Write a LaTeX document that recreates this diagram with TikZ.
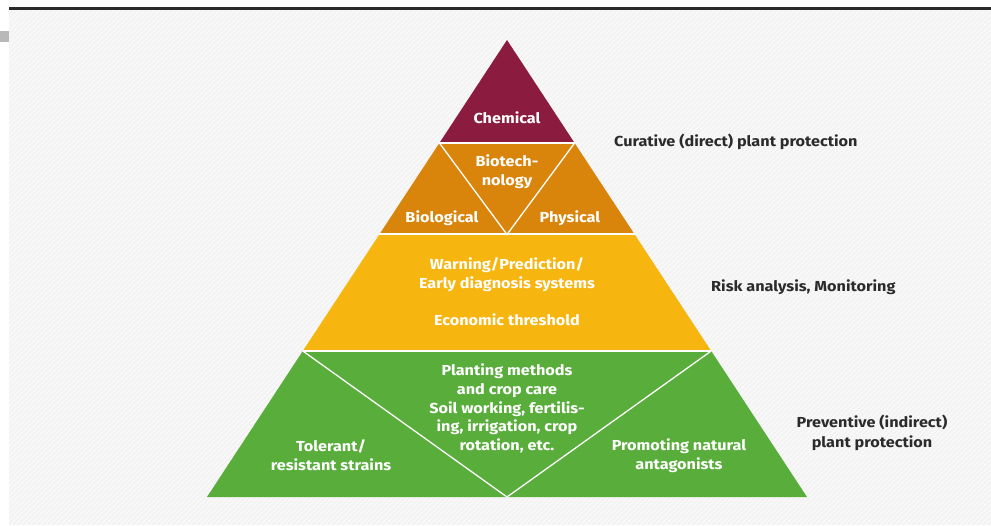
\documentclass[tikz,border=0pt]{standalone}
\usepackage{fontspec}
\setmainfont{Fira Sans}[FakeStretch=1.12]
\definecolor{chem}{HTML}{8C1B40}
\definecolor{orng}{HTML}{D9850C}
\definecolor{yell}{HTML}{F6B50F}
\definecolor{gren}{HTML}{58AD3B}
\definecolor{bgc}{HTML}{F2F2F2}
\definecolor{stripe}{HTML}{F9F9F9}
\definecolor{darktext}{HTML}{2B2B2B}
\tikzset{
  intext/.style={text=white, font=\bfseries\fontsize{14.5}{19}\selectfont, align=center, inner sep=0pt},
  outtext/.style={text=darktext, font=\bfseries\fontsize{14.5}{19.5}\selectfont, align=center, inner sep=0pt},
  sepline/.style={white, line width=2pt},
  innerline/.style={white, line width=1.3pt},
}
\begin{document}
\begin{tikzpicture}[x=1pt,y=-1pt]
\useasboundingbox (0,0) rectangle (991,526);
% background
\fill[bgc] (9,10) rectangle (991,525);
\begin{scope}
  \clip (9,10) rectangle (991,525);
  \foreach \i in {-515,-510,...,995} {
    \draw[stripe, line width=1.6pt] (\i,525) -- (\i+516,9);
  }
\end{scope}
\draw[color=darktext, line width=2.6pt] (9,8.5) -- (991,8.5);
\fill[gray!55] (0,31) rectangle (9,42);
% pyramid coordinates
\coordinate (A) at (507,40);
\coordinate (c1) at (439.4,143); \coordinate (c2) at (574.6,143);
\coordinate (o1) at (379.3,234.5); \coordinate (o2) at (634.7,234.5);
\coordinate (y1) at (302.8,351); \coordinate (y2) at (711.2,351);
\coordinate (g1) at (207,497); \coordinate (g2) at (807,497);
\coordinate (om) at (507,234.5);
\coordinate (gm) at (507,497);
% layers
\fill[chem] (A) -- (c1) -- (c2) -- cycle;
\fill[orng] (c1) -- (c2) -- (o2) -- (o1) -- cycle;
\fill[yell] (o1) -- (o2) -- (y2) -- (y1) -- cycle;
\fill[gren] (y1) -- (y2) -- (g2) -- (g1) -- cycle;
\draw[sepline] (c1) -- (c2);
\draw[sepline] (o1) -- (o2);
\draw[sepline] (y1) -- (y2);
\draw[innerline] (c1) -- (om) -- (c2);
\draw[innerline] (y1) -- (gm) -- (y2);
% texts inside
\node[intext] (chemical) at (507,118) {Chemical};
\node[intext] (biotech) at (507,172) {Biotech-\\nology};
\node[intext] (biological) at (442,218) {Biological};
\node[intext] (physical) at (570,218) {Physical};
\node[intext] (warning) at (507,274.5) {Warning/Prediction/\\Early diagnosis systems};
\node[intext] (econ) at (507,320) {Economic threshold};
\node[intext, font=\bfseries\fontsize{14.5}{18.8}\selectfont] (planting) at (507,408.5) {Planting methods\\and crop care\\Soil working, fertilis-\\ing, irrigation, crop\\rotation, etc.};
\node[intext] (tolerant) at (331,455.5) {Tolerant/\\resistant strains};
\node[intext] (promoting) at (679,455.5) {Promoting natural\\antagonists};
% texts outside
\node[outtext, anchor=west] (curative) at (614,142) {Curative (direct) plant protection};
\node[outtext, anchor=west] (risk) at (711,287) {Risk analysis, Monitoring};
\node[outtext] (preventive) at (872,433) {Preventive (indirect)\\plant protection};
\end{tikzpicture}
\end{document}
